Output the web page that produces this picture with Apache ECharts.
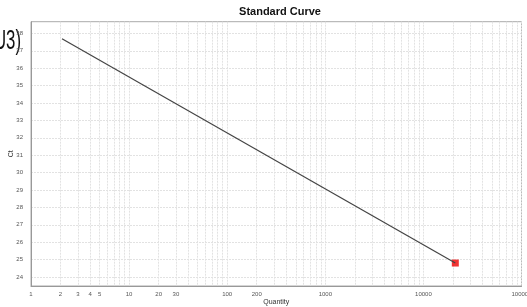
<!DOCTYPE html>
<html><head><meta charset="utf-8">
<script src="https://cdn.jsdelivr.net/npm/echarts@6/dist/echarts.min.js"></script>
<style>html,body{margin:0;padding:0;background:#fff}#c{width:527px;height:307px}</style>
</head><body><div id="c"></div>
<script>
const fitLine = [[2.07, 37.69], [21150, 24.80]];
const standards = [[21150, 24.80]];
const xLabelValues = [1, 2, 3, 4, 5, 10, 20, 30, 100, 200, 1000, 10000, 100000];
const yLabelValues = [24, 25, 26, 27, 28, 29, 30, 31, 32, 33, 34, 35, 36, 37, 38];
const xGridValues = [];
for (let d = 1; d <= 10000; d *= 10) for (let m = 1; m <= 9; m++) xGridValues.push(m * d);
xGridValues.push(100000);

const chart = echarts.init(document.getElementById('c'), null, {renderer: 'canvas'});
const lab = {fontFamily: 'Liberation Sans', fontSize: 6, color: '#555'};
chart.setOption({
  animation: false,
  title: {text: 'Standard Curve', left: 275, top: 1, textAlign: 'center',
    textStyle: {fontFamily: 'Liberation Sans', fontSize: 11, fontWeight: 'bold', color: '#111'}},
  graphic: [{type: 'text', x: 21, y: 55, scaleX: 0.6,
    style: {text: '(U3)', x: 0, y: 0, align: 'right', verticalAlign: 'bottom',
    font: '28px "Liberation Sans"', fill: '#111'}}],
  grid: {left: 31, right: 5.5, top: 21.7, bottom: 21, outerBoundsMode: 'none', containLabel: false,
    show: true, borderColor: '#aaa', borderWidth: 1},
  xAxis: {type: 'log', logBase: 10, min: 1, max: 100000,
    name: 'Quantity', nameLocation: 'middle', nameGap: 13, nameMoveOverlap: false,
    nameTextStyle: {fontFamily: 'Liberation Sans', fontSize: 7, color: '#333'},
    axisLine: {lineStyle: {color: '#999'}},
    axisTick: {show: false, customValues: xGridValues},
    axisLabel: Object.assign({customValues: xLabelValues, margin: 5, formatter: v => String(v)}, lab),
    splitLine: {show: true, lineStyle: {color: '#e2e2e2', type: [2, 1], width: 1}}},
  yAxis: {type: 'value', min: 23.48, max: 38.67,
    name: 'Ct', nameLocation: 'middle', nameGap: 16, nameRotate: 90, nameMoveOverlap: false,
    nameTextStyle: {fontFamily: 'Liberation Sans', fontSize: 7, color: '#333'},
    axisLine: {show: true, lineStyle: {color: '#999'}},
    axisTick: {show: false, customValues: yLabelValues},
    axisLabel: Object.assign({customValues: yLabelValues, margin: 8}, lab),
    splitLine: {show: true, lineStyle: {color: '#e2e2e2', type: [2, 1], width: 1}}},
  series: [
    {type: 'line', data: fitLine, symbol: 'none', lineStyle: {color: '#444', width: 1.2}},
    {type: 'scatter', data: standards, symbol: 'rect', symbolSize: 7, itemStyle: {color: '#ee0000'}}
  ]
});
</script></body></html>
